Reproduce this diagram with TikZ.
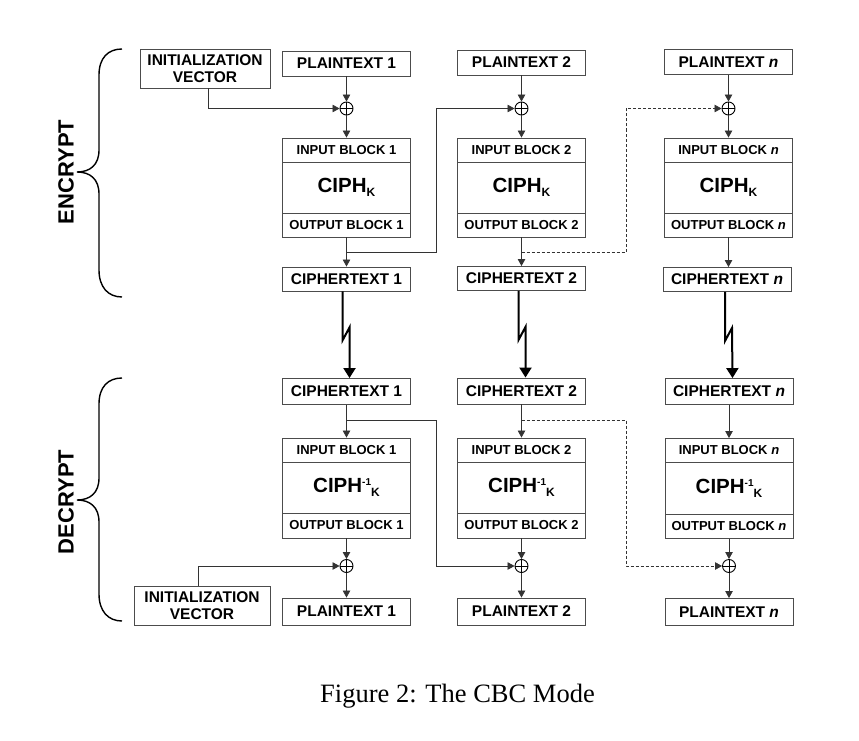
\documentclass[tikz,border=0pt]{standalone}
\usepackage{fontspec}
\setmainfont{Liberation Serif}
\setsansfont{Liberation Sans}
\usetikzlibrary{arrows.meta}
\definecolor{linec}{gray}{0.2}
\definecolor{boxc}{gray}{0.3}
\newcommand\labfont{\sffamily\bfseries\fontsize{15.5}{17}\selectfont}
\newcommand\blkfont{\sffamily\bfseries\fontsize{13}{15}\selectfont}
\newcommand\bigfont{\sffamily\bfseries\fontsize{20.5}{22}\selectfont}
\newcommand\sidefont{\sffamily\bfseries\fontsize{22}{24}\selectfont}
\newcommand\ciphk{CIPH\raisebox{-4pt}{\fontsize{12}{12}\selectfont K}}
\newcommand\ciphinvk{CIPH\raisebox{7pt}{\fontsize{10}{10}\selectfont -1}\raisebox{-4pt}{\fontsize{12}{12}\selectfont K}}
\begin{document}
\begin{tikzpicture}[x=1pt,y=-1pt,
  bx/.style={draw=boxc, line width=0.9pt, inner sep=0pt, minimum width=128pt, font=\labfont},
  blk/.style={bx, font=\blkfont, minimum height=24pt},
  ciph/.style={bx, font=\bigfont, minimum height=51pt},
  txt/.style={bx, minimum height=25pt},
  xor/.style={circle, draw=black, line width=0.9pt, minimum size=13pt, inner sep=0pt,
    path picture={\draw[black, line width=0.9pt] (path picture bounding box.north) -- (path picture bounding box.south)
      (path picture bounding box.west) -- (path picture bounding box.east);}},
  ln/.style={draw=linec, line width=0.8pt},
  ar/.style={ln, -{Triangle[length=7pt,width=7.5pt]}},
  dsh/.style={ar, dash pattern=on 3pt off 2pt},
  thk/.style={draw=black, line width=2pt, -{Triangle[length=10pt,width=12pt]}},
  brace/.style={draw=black, line width=1.4pt}
]
\useasboundingbox (0,0) rectangle (859,741);

% ---------------- ENCRYPT ----------------
\node[txt] (ep1) at (346.5,63.5) {PLAINTEXT 1};
\node[txt] (ep2) at (521.5,62.5) {PLAINTEXT 2};
\node[txt] (epn) at (728.5,62) {PLAINTEXT \textit{n}};
\node[bx, minimum width=130pt, minimum height=39pt, align=center] (eiv) at (205,68.5) {INITIALIZATION\\VECTOR};

\node[xor] (ex1) at (346.5,108.5) {};
\node[xor] (ex2) at (521.5,108.5) {};
\node[xor] (exn) at (728.5,108.5) {};

\node[blk] (ei1) at (346.5,150) {INPUT BLOCK 1};
\node[ciph] (ec1) at (346.5,187.5) {\ciphk};
\node[blk] (eo1) at (346.5,225) {OUTPUT BLOCK 1};
\node[blk] (ei2) at (521.5,150) {INPUT BLOCK 2};
\node[ciph] (ec2) at (521.5,187.5) {\ciphk};
\node[blk] (eo2) at (521.5,225) {OUTPUT BLOCK 2};
\node[blk] (ein) at (728.5,150) {INPUT BLOCK \textit{n}};
\node[ciph] (ecn) at (728.5,187.5) {\ciphk};
\node[blk] (eon) at (728.5,225) {OUTPUT BLOCK \textit{n}};

\node[txt, minimum height=24pt] (et1) at (346.5,279) {CIPHERTEXT 1};
\node[txt, minimum height=24pt] (et2) at (521.5,278.5) {CIPHERTEXT 2};
\node[txt, minimum height=24pt] (etn) at (727,279.5) {CIPHERTEXT \textit{n}};

\draw[ar] (ep1) -- (ex1);
\draw[ar] (ep2) -- (ex2);
\draw[ar] (epn) -- (exn);
\draw[ar] (ex1) -- (ei1);
\draw[ar] (ex2) -- (ei2);
\draw[ar] (exn) -- (ein);
\draw[ar] (eo1) -- (eo1 |- et1.north);
\draw[ar] (eo2) -- (eo2 |- et2.north);
\draw[ar] (eon) -- (eon |- etn.north);
\draw[ar] ([xshift=3pt]eiv.south) |- (ex1);
\coordinate (eb1) at (346.5,252);
\coordinate (eb2) at (521.5,252);
\draw[ar] (eb1) -- (436,252) |- (ex2);
\draw[dsh] (eb2) -- (626,252) |- (exn);

% ---------------- DECRYPT ----------------
\node[txt, minimum height=26pt] (dt1) at (346.5,391.5) {CIPHERTEXT 1};
\node[txt, minimum height=26pt] (dt2) at (521.5,391) {CIPHERTEXT 2};
\node[txt, minimum height=26pt] (dtn) at (729,391.5) {CIPHERTEXT \textit{n}};

\node[blk] (di1) at (346.5,450) {INPUT BLOCK 1};
\node[ciph] (dc1) at (346.5,487.5) {\ciphinvk};
\node[blk, minimum height=25pt] (do1) at (346.5,525.5) {OUTPUT BLOCK 1};
\node[blk] (di2) at (521.5,450) {INPUT BLOCK 2};
\node[ciph] (dc2) at (521.5,487.5) {\ciphinvk};
\node[blk, minimum height=25pt] (do2) at (521.5,525.5) {OUTPUT BLOCK 2};
\node[blk] (din) at (729,450.5) {INPUT BLOCK \textit{n}};
\node[ciph, minimum height=52pt] (dcn) at (729,488.5) {\ciphinvk};
\node[blk] (don) at (729,526.5) {OUTPUT BLOCK \textit{n}};

\node[xor] (dx1) at (346.5,566) {};
\node[xor] (dx2) at (521.5,566) {};
\node[xor] (dxn) at (729,566) {};

\node[txt, minimum height=27pt] (dp1) at (346.5,611.5) {PLAINTEXT 1};
\node[txt, minimum height=27pt] (dp2) at (521.5,611.5) {PLAINTEXT 2};
\node[txt, minimum height=27pt] (dpn) at (729,612) {PLAINTEXT \textit{n}};
\node[bx, minimum width=136pt, minimum height=39pt, align=center] (div) at (202,605.5) {INITIALIZATION\\VECTOR};

\draw[ar] (dt1) -- (di1);
\draw[ar] (dt2) -- (di2);
\draw[ar] (dtn) -- (din);
\draw[ar] (do1) -- (dx1);
\draw[ar] (do2) -- (dx2);
\draw[ar] (don) -- (dxn);
\draw[ar] (dx1) -- (dp1);
\draw[ar] (dx2) -- (dp2);
\draw[ar] (dxn) -- (dpn);
\draw[ar] ([xshift=-4pt]div.north) |- (dx1);
\coordinate (db1) at (346.5,420);
\coordinate (db2) at (521.5,420);
\draw[ar] (db1) -- (436,420) |- (dx2);
\draw[dsh] (db2) -- (626,420) |- (dxn);

% ---------------- transmission ----------------
\draw[thk] ([xshift=-4pt]et1.south) -- ++(0,49) -- ++(7,-13) -- ([xshift=3pt]dt1.north);
\draw[thk] ([xshift=-3pt]et2.south) -- ++(0,49) -- ++(7,-13) -- ([xshift=4pt]dt2.north);
\draw[thk] ([xshift=-2pt]etn.south) -- ++(0,49) -- ++(7,-13) -- ([xshift=3.5pt]dtn.north);

% ---------------- braces ----------------
\draw[brace] (122,49) .. controls (108,49) and (99,58) .. (99,75) -- (99,150)
  .. controls (99,165) and (90,172) .. (77,172)
  .. controls (90,172) and (99,179) .. (99,194) -- (99,270)
  .. controls (99,287) and (108,297) .. (122,297);
\draw[brace] (122,378) .. controls (108,378) and (99,387) .. (99,404) -- (99,478)
  .. controls (99,493) and (90,500) .. (77,500)
  .. controls (90,500) and (99,507) .. (99,522) -- (99,594)
  .. controls (99,611) and (108,621) .. (122,621);
\node[font=\sidefont, rotate=90] (enc) at (66,172) {ENCRYPT};
\node[font=\sidefont, rotate=90] (dec) at (66,502) {DECRYPT};

% ---------------- caption ----------------
\node[font=\fontsize{26.5}{30}\selectfont, anchor=base, inner sep=0pt] (cap) at (457.5,702) {Figure 2: The CBC Mode};
\end{tikzpicture}
\end{document}
